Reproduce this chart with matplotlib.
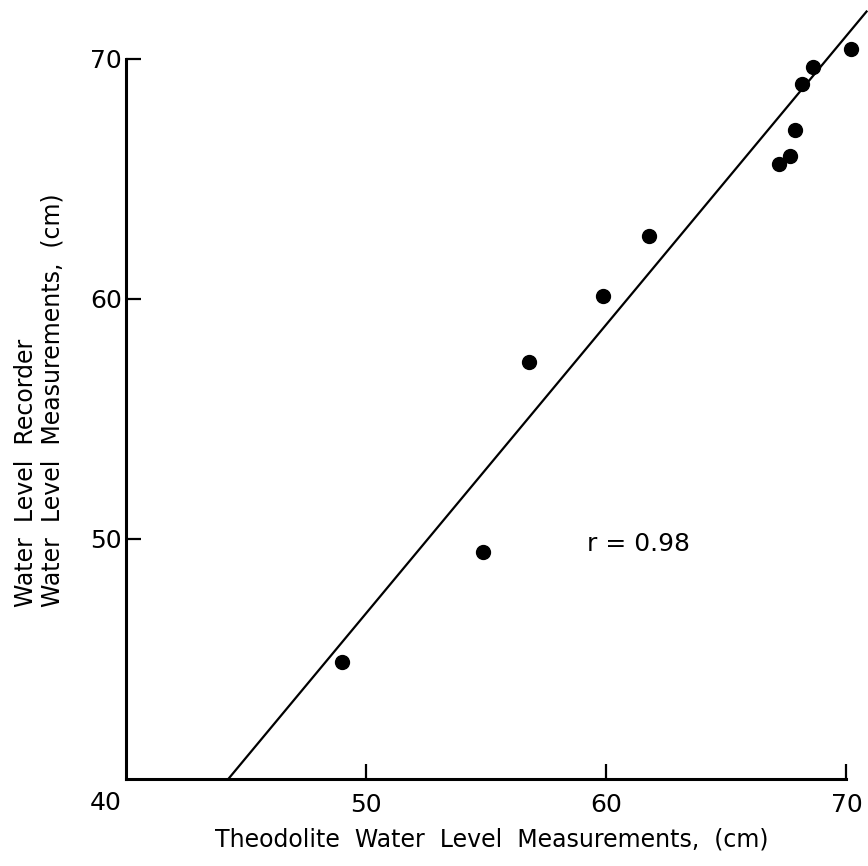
import matplotlib
matplotlib.use("Agg")
from matplotlib import pyplot as plt

plt.rc('font', family='DejaVu Sans')

# theodolite (x) vs recorder (y) water level, cm
theodolite = [48.98, 54.86, 56.79, 59.87, 61.76, 67.19, 67.67, 67.85, 68.17, 68.61, 70.21]
recorder = [44.89, 49.46, 57.35, 60.10, 62.60, 65.63, 65.97, 67.04, 68.95, 69.64, 70.40]

# regression line end points
fit_x = [44.26, 70.84]
fit_y = [40.0, 71.97]

r_text = "r = 0.98"
ticks = [50, 60, 70]

fig = plt.figure(figsize=(8.68, 8.66), dpi=100)
ax = fig.add_axes([0.1452, 0.1005, 0.8548, 0.8995])

ax.plot(fit_x, fit_y, color='black', linewidth=1.6)
ax.plot(theodolite, recorder, 'o', color='black', markersize=10)

ax.set_xlim(40, 70.9)
ax.set_ylim(40, 72.45)

for s in ['top', 'right']:
    ax.spines[s].set_visible(False)
ax.spines['left'].set_bounds(40, 70)
ax.spines['bottom'].set_bounds(40, 70)
ax.spines['left'].set_linewidth(2.2)
ax.spines['bottom'].set_linewidth(2.2)

ax.set_xticks(ticks)
ax.set_yticks(ticks)
ax.tick_params(axis='x', direction='in', length=11, width=1.6, labelsize=18, pad=10)
ax.tick_params(axis='y', direction='in', length=11, width=1.6, labelsize=18, pad=3)

# shared corner label
ax.annotate('40', xy=(40, 40), xytext=(-15, -17), textcoords='offset points',
            ha='center', va='center', fontsize=18)

ax.text(59.2, 49.8, r_text, fontsize=18, ha='left', va='center')

fig.text(492 / 868, 1 - 840 / 866, "Theodolite  Water  Level  Measurements,  (cm)",
         ha='center', va='center', fontsize=17)
fig.text(39 / 868, 1 - 400 / 866,
         "Water  Level  Recorder\nWater  Level  Measurements,  (cm)",
         ha='center', va='center', rotation=90, multialignment='left',
         fontsize=17, linespacing=1.15)

plt.savefig("out.png", dpi=100)
plt.close()
